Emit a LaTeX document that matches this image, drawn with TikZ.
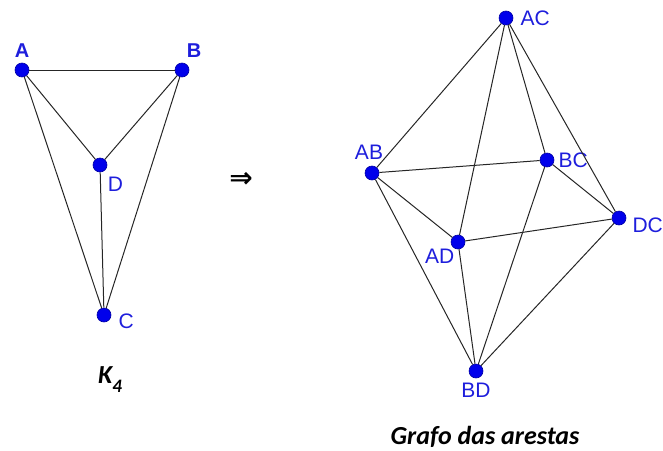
\documentclass[tikz,border=0pt]{standalone}
\usepackage{fontspec}
\setmainfont{Liberation Sans}
\newfontfamily\calib{Carlito}
\newfontfamily\symb{DejaVu Sans}
\usepackage{tikz}
\usetikzlibrary{positioning}
\definecolor{vblue}{RGB}{0,0,235}
\definecolor{lblue}{RGB}{30,30,220}
\tikzset{
  vtx/.style  ={circle, fill=vblue, draw=vblue!70!black, line width=0.6pt, minimum size=14pt, inner sep=0pt},
  lbl/.style  ={text=lblue, font=\fontsize{21}{24}\selectfont, inner sep=1pt},
  lblb/.style ={text=lblue, font=\fontsize{20}{24}\selectfont\bfseries, inner sep=1pt},
  edg/.style  ={draw=black!85, line width=1pt},
  captxt/.style ={font=\calib\fontsize{26}{30}\selectfont\bfseries\itshape},
}
\begin{document}
\begin{tikzpicture}[x=1pt, y=-1pt, label distance=2pt]
  \useasboundingbox (0,0) rectangle (663,450);
  % K4
  \node[vtx, label={[lblb, yshift=2pt]above:A}] (A) at (22,70) {};
  \node[vtx, label={[lblb, xshift=-3pt, yshift=5pt]above right:B}] (B) at (182,70) {};
  \node[vtx, label={[lbl, yshift=-4pt]below right:D}] (D) at (100,165) {};
  \node[vtx, label={[lbl, xshift=4pt, yshift=-6pt]right:C}] (C) at (104,315) {};
  \draw[edg] (A) -- (B);
  \draw[edg] (A) -- (D);
  \draw[edg] (B) -- (D);
  \draw[edg] (A) -- (C);
  \draw[edg] (B) -- (C);
  \draw[edg] (D) -- (C);
  \node[captxt] (k4) at (110,380) {K\raisebox{-0.35em}{\fontsize{19}{22}\selectfont 4}};
  \node[font=\symb\fontsize{28}{32}\selectfont\bfseries] (impl) at (241,180) {⇒};
  % line graph
  \node[vtx, label={[lbl, xshift=4pt]right:AC}] (AC) at (506,18) {};
  \node[vtx, label={[lbl, xshift=-3pt, yshift=3pt]above:AB}] (AB) at (372,173) {};
  \node[vtx, label={[lbl, xshift=1pt]right:BC}] (BC) at (547,160) {};
  \node[vtx, label={[lbl, xshift=3pt, yshift=-7pt]right:DC}] (DC) at (619,218) {};
  \node[vtx, label={[lbl, xshift=4pt, yshift=1pt]below left:AD}] (AD) at (458,242) {};
  \node[vtx, label={[lbl, yshift=-2pt]below:BD}] (BD) at (476,371) {};
  \foreach \u/\v in {AC/AB, AC/BC, AC/DC, AC/AD, AB/BC, AB/AD, AB/BD,
                     BC/DC, BC/BD, DC/AD, DC/BD, AD/BD}
    \draw[edg] (\u) -- (\v);
  \node[captxt] (title) at (485,437) {Grafo das arestas};
\end{tikzpicture}
\end{document}
